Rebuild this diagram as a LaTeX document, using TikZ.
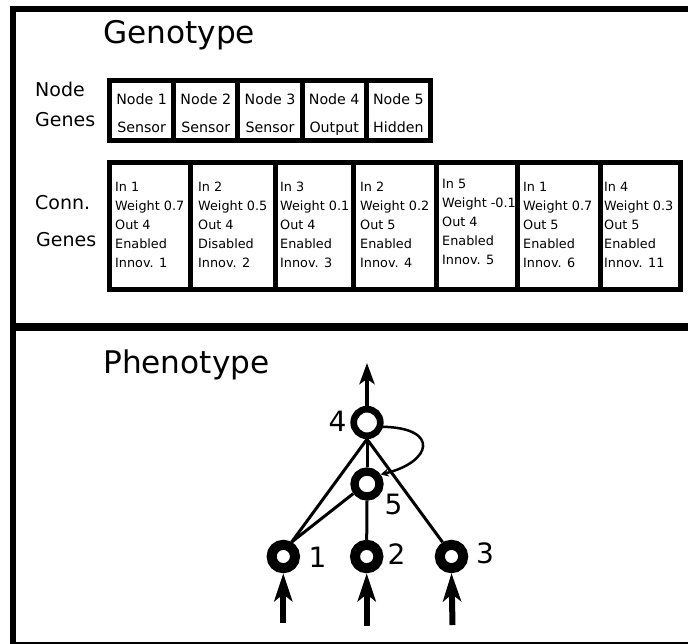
\documentclass[tikz,border=0pt]{standalone}
\usepackage{fontspec}
\setmainfont{DejaVu Sans}
\usetikzlibrary{arrows.meta}
\begin{document}
\begin{tikzpicture}[x=1pt,y=-1pt,
  frame/.style={line width=6pt},
  divider/.style={line width=7pt},
  cell/.style={draw, line width=5pt, rectangle, inner sep=0pt, fill=white},
  ntext/.style={font=\fontsize{14.2}{28}\selectfont, align=center, anchor=north, inner sep=0pt},
  gtext/.style={font=\fontsize{12.8}{19}\selectfont, align=left, anchor=north west, inner sep=0pt},
  side/.style={font=\fontsize{19}{20}\selectfont, anchor=west, inner sep=0pt},
  ttl/.style={font=\fontsize{31.2}{34}\selectfont, anchor=base west, inner sep=0pt},
  ring/.style={circle, draw, fill=white, inner sep=0pt},
  edge/.style={line width=3pt},
  num/.style={font=\fontsize{28}{30}\selectfont, inner sep=0pt},
  inarrow/.style={line width=6pt, -{Stealth[length=28pt,width=18pt,inset=7pt]}},
  outarrow/.style={line width=4pt, -{Stealth[length=21pt,width=15pt,inset=5pt]}},
]
\useasboundingbox (0,0) rectangle (688,644);
\clip (0,0) rectangle (688,644);
\fill[white] (0,0) rectangle (688,644);
% frame
\draw[frame] (13,9) rectangle (720,644.5);
\draw[divider] (13,327) -- (720,327);

% Genotype
\node[ttl] (genotype) at (103,44) {Genotype};
\node[side] (nodelbl) at (35,89) {Node};
\node[side] (geneslbl) at (35,120) {Genes};

\node[cell, minimum width=64.2pt, minimum height=60.5pt] (ng1) at (141.6,110.75) {};
\node[cell, minimum width=64.2pt, minimum height=60.5pt] (ng2) at (205.8,110.75) {};
\node[cell, minimum width=64.2pt, minimum height=60.5pt] (ng3) at (270.0,110.75) {};
\node[cell, minimum width=64.2pt, minimum height=60.5pt] (ng4) at (334.2,110.75) {};
\node[cell, minimum width=64.2pt, minimum height=60.5pt] (ng5) at (398.4,110.75) {};
\node[ntext] (nt1) at (141.6,93.5) {Node 1\\Sensor};
\node[ntext] (nt2) at (205.8,93.5) {Node 2\\Sensor};
\node[ntext] (nt3) at (270.0,93.5) {Node 3\\Sensor};
\node[ntext] (nt4) at (334.2,93.5) {Node 4\\Output};
\node[ntext] (nt5) at (398.4,93.5) {Node 5\\Hidden};

\node[side] (connlbl) at (35,203) {Conn.};
\node[side] (genes2lbl) at (36,240) {Genes};

\node[cell, minimum width=81pt, minimum height=127.5pt] (cg1) at (149.5,226.25) {};
\node[cell, minimum width=85pt, minimum height=127.5pt] (cg2) at (232.5,226.25) {};
\node[cell, minimum width=78pt, minimum height=127.5pt] (cg3) at (314.0,226.25) {};
\node[cell, minimum width=83pt, minimum height=127.5pt] (cg4) at (394.5,226.25) {};
\node[cell, minimum width=81pt, minimum height=127.5pt] (cg5) at (476.5,226.25) {};
\node[cell, minimum width=83pt, minimum height=127.5pt] (cg6) at (558.5,226.25) {};
\node[cell, minimum width=80pt, minimum height=127.5pt] (cg7) at (640.0,226.25) {};
\node[gtext] (gt1) at (115,182) {In 1\\Weight 0.7\\Out 4\\Enabled\\Innov. 1};
\node[gtext] (gt2) at (198,182) {In 2\\Weight 0.5\\Out 4\\Disabled\\Innov. 2};
\node[gtext] (gt3) at (280,182) {In 3\\Weight 0.1\\Out 4\\Enabled\\Innov. 3};
\node[gtext] (gt4) at (360,182) {In 2\\Weight 0.2\\Out 5\\Enabled\\Innov. 4};
\node[gtext] (gt5) at (442,178.5) {In 5\\Weight -0.1\\Out 4\\Enabled\\Innov. 5};
\node[gtext] (gt6) at (523,182) {In 1\\Weight 0.7\\Out 5\\Enabled\\Innov. 6};
\node[gtext] (gt7) at (604,182) {In 4\\Weight 0.3\\Out 5\\Enabled\\Innov. 11};

% Phenotype
\node[ttl] (phenotype) at (103,373) {Phenotype};

\node[ring, minimum size=26.6pt, line width=6.7pt] (n4) at (367,422.5) {};
\node[ring, minimum size=25pt, line width=8.3pt] (n5) at (367,484) {};
\node[ring, minimum size=23.4pt, line width=10pt] (n1) at (283.3,556.5) {};
\node[ring, minimum size=23.4pt, line width=10pt] (n2) at (366.7,556.5) {};
\node[ring, minimum size=23.4pt, line width=10pt] (n3) at (451.5,556.5) {};

\draw[edge] (n4.south) -- (n1.60);
\draw[edge] (n4.south) -- (n5.north);
\draw[edge] (n4.south) -- (n3.122);
\draw[edge] (n5.215) -- (n1.60);
\draw[edge] (n5.south) -- (n2.north);
\draw[line width=2.5pt, -{Stealth[length=8pt,width=8pt]}] (n4.-15) .. controls (440,428) and (432,462) .. (n5.35);

\node[num] (l4) at (337.5,421) {4};
\node[num] (l5) at (393.5,504) {5};
\node[num] (l1) at (317.5,557) {1};
\node[num] (l2) at (396.5,554) {2};
\node[num] (l3) at (485,553) {3};

\coordinate (out) at (367,363);
\coordinate (in1) at (283.3,623);
\coordinate (in2) at (366.7,626);
\coordinate (in3) at (452.5,625);
\draw[outarrow] (n4.north) -- (out);
\draw[inarrow] (in1) -- (n1.south);
\draw[inarrow] (in2) -- (n2.south);
\draw[inarrow] (in3) -- (n3.south);
\end{tikzpicture}
\end{document}
